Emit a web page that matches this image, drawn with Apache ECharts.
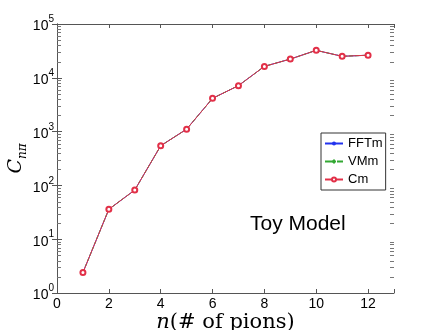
<!DOCTYPE html>
<html>
<head>
<meta charset="utf-8">
<script src="https://cdn.jsdelivr.net/npm/echarts@6/dist/echarts.min.js"></script>
<style>
  html, body { margin: 0; padding: 0; background: #fff; }
  #chart { width: 436px; height: 330px; }
</style>
</head>
<body>
<div id="chart"></div>
<script>
// n = number of pions
var nPions = [1, 2, 3, 4, 5, 6, 7, 8, 9, 10, 11, 12];
// the three methods lie on top of each other in the picture
var fftm = [2.4, 36, 82, 545, 1110, 4150, 7150, 16300, 22300, 32400, 25100, 26300];
var vmm = [2.4, 36, 82, 545, 1110, 4150, 7150, 16300, 22300, 32400, 25100, 26300];
var cm = [2.4, 36, 82, 545, 1110, 4150, 7150, 16300, 22300, 32400, 25100, 26300];
var xTicks = [0, 2, 4, 6, 8, 10, 12];
var yDecades = [1, 10, 100, 1000, 10000];
var mantissas = [2, 3, 4, 5, 6, 7, 8, 9];

// minor tick values of the log axis (2..9 in each decade)
var minorTicks = [];
yDecades.forEach(function (d) {
  mantissas.forEach(function (m) { minorTicks.push([0, m * d]); });
});

function pairs(ys) {
  return nPions.map(function (n, i) { return [n, ys[i]]; });
}

var axisGray = "#555";
var chart = echarts.init(document.getElementById("chart"));

var option = {
  animation: false,
  backgroundColor: "#fff",
  grid: { left: 57, top: 24, right: 42, bottom: 37, outerBoundsMode: "none" },
  legend: {
    orient: "vertical",
    left: 321,
    top: 133,
    backgroundColor: "#fff",
    borderColor: "#333",
    borderWidth: 1,
    borderRadius: 0,
    padding: [4, 3, 4, 3],
    itemWidth: 18,
    itemHeight: 5,
    itemGap: 5,
    textStyle: { fontFamily: "Liberation Sans", fontSize: 13, color: "#000" },
    data: ["FFTm", "VMm", "Cm"]
  },
  graphic: [{
    type: "text",
    left: 250,
    top: 214,
    style: { text: "Toy Model", fontFamily: "Liberation Sans", fontSize: 21, fill: "#000" }
  }],
  xAxis: [{
    type: "value",
    min: 0,
    max: 13,
    interval: 2,
    name: "{i|n}{r|(# of pions)}",
    nameLocation: "middle",
    nameGap: 19,
    nameMoveOverlap: false,
    nameTextStyle: {
      verticalAlign: "top",
      rich: {
        i: { fontFamily: "DejaVu Serif", fontStyle: "italic", fontSize: 21, color: "#000" },
        r: { fontFamily: "DejaVu Serif", fontSize: 21, color: "#000" }
      }
    },
    axisLine: { lineStyle: { color: axisGray } },
    axisTick: { inside: true, length: 4, lineStyle: { color: axisGray } },
    axisLabel: { margin: 4, color: "#000", fontFamily: "Liberation Sans", fontSize: 14,
      formatter: function (v) { return xTicks.indexOf(v) >= 0 ? String(v) : ""; } },
    splitLine: { show: false }
  }, {
    type: "value",
    position: "top",
    min: 0,
    max: 13,
    interval: 2,
    axisLine: { lineStyle: { color: axisGray } },
    axisTick: { inside: true, length: 4, lineStyle: { color: axisGray } },
    axisLabel: { show: false },
    splitLine: { show: false }
  }],
  yAxis: [{
    type: "log",
    logBase: 10,
    min: 1,
    max: 100000,
    name: "{c|C}{s|nπ}",
    nameLocation: "middle",
    nameRotate: 90,
    nameGap: 28,
    nameMoveOverlap: false,
    nameTextStyle: {
      rich: {
        c: { fontFamily: "DejaVu Serif", fontStyle: "italic", fontSize: 19, color: "#000", lineHeight: 22, verticalAlign: "top" },
        s: { fontFamily: "DejaVu Serif", fontStyle: "italic", fontSize: 12, color: "#000", verticalAlign: "bottom" }
      }
    },
    axisLine: { lineStyle: { color: axisGray } },
    axisTick: { inside: true, length: 5, lineStyle: { color: axisGray } },
    axisLabel: {
      margin: 3,
      formatter: function (v) {
        return "{b|10}{s|" + Math.round(Math.log10(v)) + "}";
      },
      rich: {
        b: { fontFamily: "Liberation Sans", fontSize: 14, color: "#000", lineHeight: 19, verticalAlign: "bottom", padding: [4, 0, 0, 0] },
        s: { fontFamily: "Liberation Sans", fontSize: 10, color: "#000", verticalAlign: "top" }
      }
    },
    splitLine: { show: false }
  }, {
    type: "log",
    logBase: 10,
    min: 1,
    max: 100000,
    position: "right",
    axisLine: { lineStyle: { color: axisGray } },
    axisTick: { inside: true, length: 5, lineStyle: { color: axisGray } },
    axisLabel: { show: false },
    splitLine: { show: false }
  }],
  series: [{
    // minor ticks on both log axes, placed through the y scale
    type: "custom",
    silent: true,
    clip: false,
    z: 5,
    data: minorTicks,
    renderItem: function (params, api) {
      var left = api.coord([0, api.value(1)]);
      var right = api.coord([13, api.value(1)]);
      var y = Math.round(left[1]) + 0.5;
      var st = { stroke: "#777", lineWidth: 1 };
      return {
        type: "group",
        children: [
          { type: "line", shape: { x1: left[0], y1: y, x2: left[0] + 4, y2: y }, style: st },
          { type: "line", shape: { x1: right[0] - 4, y1: y, x2: right[0], y2: y }, style: st }
        ]
      };
    }
  }, {
    name: "FFTm",
    type: "line",
    data: pairs(fftm),
    symbol: "circle",
    symbolSize: 3,
    showSymbol: true,
    lineStyle: { color: "#2233ee", width: 1 },
    itemStyle: { color: "#2233ee" }
  }, {
    name: "VMm",
    type: "line",
    data: pairs(vmm),
    symbol: "path://M0,5L10,5M5,0L5,10",
    symbolSize: 5,
    lineStyle: { color: "#33a833", width: 1, type: "dashed" },
    itemStyle: { color: "none", borderColor: "#33a833", borderWidth: 1 }
  }, {
    name: "Cm",
    type: "line",
    data: pairs(cm),
    symbol: "emptyCircle",
    symbolSize: 5,
    lineStyle: { color: "#e23048", width: 1 },
    itemStyle: { color: "#e23048", borderColor: "#e23048", borderWidth: 1 }
  }]
};

chart.setOption(option);
</script>
</body>
</html>
